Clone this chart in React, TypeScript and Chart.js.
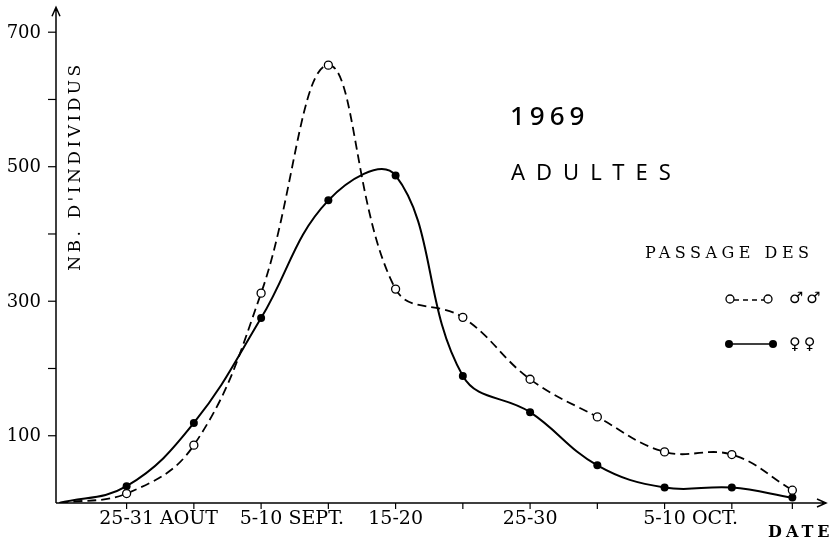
import React, { useEffect, useRef } from "react";
import { Chart, registerables } from "chart.js";

Chart.register(...registerables);

// Data
const xPositions = [0, 1, 2, 3, 4, 5, 6, 7, 8, 9, 10, 10.9];
const maleCounts = [0, 14, 86, 312, 651, 318, 276, 184, 128, 76, 72, 19];
const femaleCounts = [0, 25, 119, 275, 450, 487, 189, 135, 56, 23, 23, 8];

const yTickValues = [100, 200, 300, 400, 500, 600, 700];
const yLabelledValues = [100, 300, 500, 700];
const xTickPositions = [1, 2, 3, 4, 5, 6, 7, 8, 9, 10, 10.9];
const labelPositions = [1, 3, 5, 7, 9];
const labelDates = ["25-31", "5-10", "15-20", "25-30", "5-10"];
const labelMonths = ["AOUT", "SEPT.", "", "", "OCT."];

const yTitle = "NB. D'INDIVIDUS";
const xTitle = "DATE";
const yearText = "1969";
const groupText = "ADULTES";
const legendTitle = "PASSAGE DES";
const maleSymbol = "♂♂";
const femaleSymbol = "♀♀";

const SERIF = '"DejaVu Serif", "Liberation Serif", serif';
const SANS = '"Noto Sans", "DejaVu Sans", sans-serif';

const decorPlugin = {
  id: "decor",
  afterDraw(chart: any) {
    const ctx: CanvasRenderingContext2D = chart.ctx;
    const xs = chart.scales.x;
    const ys = chart.scales.y;
    const area = chart.chartArea;
    const axX = area.left;
    const axY = ys.getPixelForValue(0);

    ctx.save();
    ctx.strokeStyle = "#000";
    ctx.fillStyle = "#000";
    ctx.lineWidth = 1.5;
    ctx.setLineDash([]);

    // y axis with arrow
    ctx.beginPath();
    ctx.moveTo(axX, axY);
    ctx.lineTo(axX, area.top + 2);
    ctx.moveTo(axX - 4, area.top + 11);
    ctx.lineTo(axX, area.top + 2);
    ctx.lineTo(axX + 4, area.top + 11);
    ctx.stroke();

    // x axis with arrow
    const xEnd = 826;
    ctx.beginPath();
    ctx.moveTo(axX, axY);
    ctx.lineTo(xEnd, axY);
    ctx.moveTo(xEnd - 9, axY - 4);
    ctx.lineTo(xEnd, axY);
    ctx.lineTo(xEnd - 9, axY + 4);
    ctx.stroke();

    // y ticks
    ctx.lineWidth = 1.2;
    yTickValues.forEach((v) => {
      const py = ys.getPixelForValue(v);
      ctx.beginPath();
      ctx.moveTo(axX - 8, py);
      ctx.lineTo(axX, py);
      ctx.stroke();
    });
    ctx.font = `18px ${SERIF}`;
    ctx.textAlign = "right";
    ctx.textBaseline = "middle";
    yLabelledValues.forEach((v) => {
      ctx.fillText(String(v), axX - 15, ys.getPixelForValue(v) + 1);
    });

    // x ticks
    xTickPositions.forEach((v) => {
      const px = xs.getPixelForValue(v);
      ctx.beginPath();
      ctx.moveTo(px, axY);
      ctx.lineTo(px, axY + 6);
      ctx.stroke();
    });

    // x labels: date part centred on the tick, month following
    ctx.font = `19px ${SERIF}`;
    ctx.textAlign = "left";
    ctx.textBaseline = "alphabetic";
    labelPositions.forEach((v, i) => {
      const px = xs.getPixelForValue(v);
      const w = ctx.measureText(labelDates[i]).width;
      const text = labelMonths[i] ? `${labelDates[i]} ${labelMonths[i]}` : labelDates[i];
      ctx.fillText(text, px - w / 2, axY + 21);
    });

    // DATE
    ctx.font = `bold 16px ${SERIF}`;
    (ctx as any).letterSpacing = "4px";
    ctx.fillText(xTitle, 768, 537);

    // y title (rotated)
    ctx.save();
    ctx.translate(76, 166);
    ctx.rotate(-Math.PI / 2);
    ctx.font = `17px ${SERIF}`;
    (ctx as any).letterSpacing = "3.5px";
    ctx.textAlign = "center";
    ctx.textBaseline = "middle";
    ctx.fillText(yTitle, 0, 0);
    ctx.restore();

    // 1969 / ADULTES
    ctx.font = `500 26px ${SANS}`;
    (ctx as any).letterSpacing = "5px";
    ctx.textAlign = "left";
    ctx.fillText(yearText, 510, 125);
    ctx.font = `22px ${SANS}`;
    (ctx as any).letterSpacing = "11px";
    ctx.fillText(groupText, 511, 180);

    // legend
    ctx.font = `16px ${SERIF}`;
    (ctx as any).letterSpacing = "4.5px";
    ctx.fillText(legendTitle, 645, 258);
    (ctx as any).letterSpacing = "0px";

    // male legend row
    ctx.lineWidth = 1.5;
    ctx.setLineDash([5, 4]);
    ctx.beginPath();
    ctx.moveTo(734, 300);
    ctx.lineTo(764, 300);
    ctx.stroke();
    ctx.setLineDash([]);
    ctx.lineWidth = 1.3;
    [730, 768].forEach((cx) => {
      ctx.beginPath();
      ctx.arc(cx, 299, 4, 0, Math.PI * 2);
      ctx.fillStyle = "#fff";
      ctx.fill();
      ctx.stroke();
    });
    ctx.fillStyle = "#000";
    ctx.font = `16px "DejaVu Sans", sans-serif`;
    (ctx as any).letterSpacing = "3px";
    ctx.textBaseline = "middle";
    ctx.fillText(maleSymbol, 789, 299);

    // female legend row
    ctx.lineWidth = 1.5;
    ctx.beginPath();
    ctx.moveTo(729, 344);
    ctx.lineTo(773, 344);
    ctx.stroke();
    [729, 773].forEach((cx) => {
      ctx.beginPath();
      ctx.arc(cx, 344, 4, 0, Math.PI * 2);
      ctx.fill();
    });
    ctx.fillText(femaleSymbol, 789, 345);

    ctx.restore();
  },
};

export default function App() {
  const canvasRef = useRef<HTMLCanvasElement | null>(null);

  useEffect(() => {
    if (!canvasRef.current) return;
    const malePts = xPositions.map((x, i) => ({ x, y: maleCounts[i] }));
    const femalePts = xPositions.map((x, i) => ({ x, y: femaleCounts[i] }));
    const chart = new Chart(canvasRef.current, {
      type: "line",
      data: {
        datasets: [
          {
            label: "♂♂",
            data: malePts,
            borderColor: "#000",
            borderWidth: 1.8,
            borderDash: [9, 5],
            tension: 0.4,
            pointRadius: maleCounts.map((_, i) => (i === 0 ? 0 : 4)),
            pointBackgroundColor: "#fff",
            pointBorderColor: "#000",
            pointBorderWidth: 1.3,
            fill: false,
          },
          {
            label: "♀♀",
            data: femalePts,
            borderColor: "#000",
            borderWidth: 2,
            tension: 0.4,
            pointRadius: femaleCounts.map((_, i) => (i === 0 ? 0 : 4)),
            pointBackgroundColor: "#000",
            pointBorderColor: "#000",
            pointBorderWidth: 0,
            fill: false,
          },
        ],
      },
      options: {
        animation: false,
        responsive: true,
        maintainAspectRatio: false,
        layout: { padding: { left: 56, right: 2, top: 5, bottom: 42 } },
        plugins: { legend: { display: false }, tooltip: { enabled: false } },
        scales: {
          x: { type: "linear", min: -0.05, max: 11.5, display: false },
          y: { type: "linear", min: 0, max: 740, display: false },
        },
      },
      plugins: [decorPlugin],
    });
    return () => chart.destroy();
  }, []);

  return (
    <div style={{ position: "absolute", left: 0, top: 0, width: 838, height: 545, background: "#fff" }}>
      <canvas ref={canvasRef} />
    </div>
  );
}
